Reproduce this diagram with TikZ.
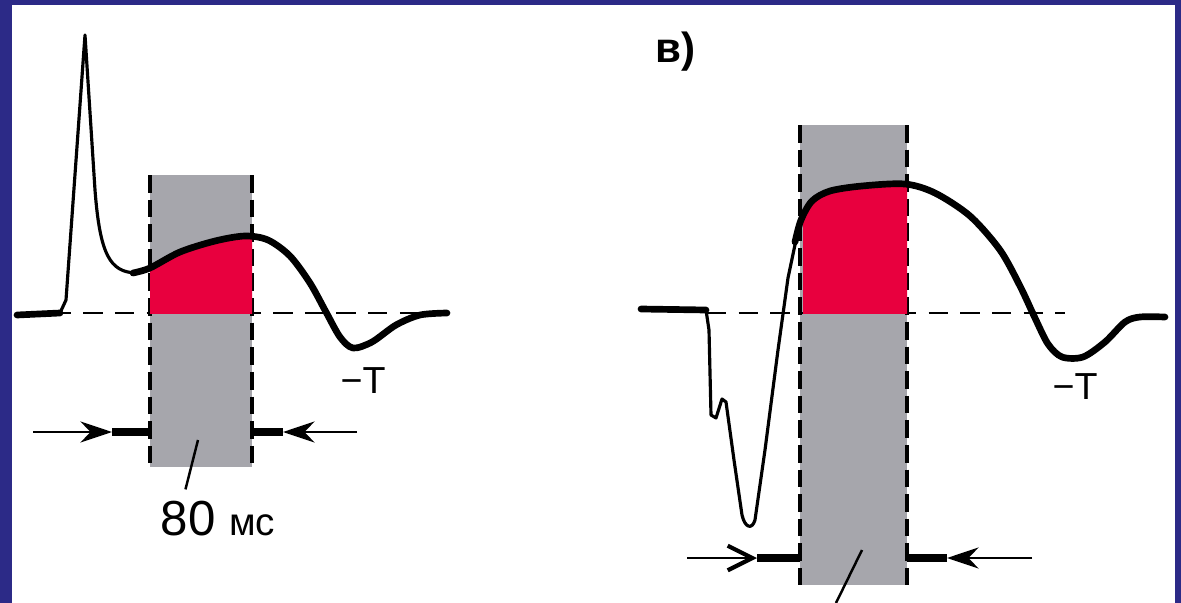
\documentclass[tikz,border=0pt]{standalone}
\usepackage{fontspec}
\setmainfont{Liberation Sans}
\usepackage{xcolor}
\usetikzlibrary{arrows.meta,calc,positioning}
\definecolor{frameblue}{RGB}{44,42,135}
\definecolor{zonegray}{RGB}{166,166,172}
\definecolor{stred}{RGB}{232,0,62}

\begin{document}
\begin{tikzpicture}[x=0.01cm,y=-0.01cm,
  trace/.style={line width=1.9pt,line cap=round,line join=round},
  qrs/.style={line width=0.9pt,line join=round},
  iso/.style={line width=0.7pt,dash pattern=on 5.5pt off 3.5pt},
  bound/.style={line width=1.2pt,dash pattern=on 5pt off 2pt},
  dimline/.style={line width=0.7pt},
  dimstub/.style={line width=2pt},
  lbl/.style={inner sep=0pt}]
  \useasboundingbox (0,0) rectangle (1181,603);
  \fill[frameblue] (0,0) rectangle (1181,603);
  \fill[white] (12,5) rectangle (1175,603);

  % left panel: window 80 ms
  \fill[zonegray] (150,175) rectangle (252,467);
  \draw[bound] (150,175) -- (150,467);
  \draw[bound] (252,175) -- (252,467);
  \draw[iso] (20,313) -- (447,313);
  \begin{scope}
    \clip (150,175) rectangle (252,313);
    \fill[stred] plot[smooth] coordinates {(133,273) (150,268) (180,252) (215,241) (245,236) (268,240) (290,256) (310,283)} -- (310,330) -- (133,330) -- cycle;
  \end{scope}
  \draw[trace] (17,315) -- (60,313);
  \draw[qrs] (60,313) -- (66,300) -- (85,35) -- (95,190) .. controls (100,255) and (110,272) .. (136,273);
  \draw[trace] plot[smooth] coordinates {(133,273) (150,268) (180,252) (215,241) (245,236) (268,240) (290,256) (310,283) (326,312) (340,337) (353,348) (372,342) (396,325) (420,315) (447,313)};
  \node[lbl,anchor=base west,font=\fontsize{10.7}{12}\selectfont] (tnegL) at (340,393) {−T};

  \coordinate (la0) at (33,432);
  \coordinate (la1) at (112,432);
  \coordinate (la2) at (150,432);
  \coordinate (lb0) at (357,432);
  \coordinate (lb1) at (283,432);
  \coordinate (lb2) at (252,432);
  \draw[dimline,-{Stealth[length=9pt,width=6pt]}] (la0) -- (la1);
  \draw[dimstub] (la1) -- (la2);
  \draw[dimline,-{Stealth[length=9pt,width=6pt]}] (lb0) -- (lb1);
  \draw[dimstub] (lb1) -- (lb2);

  \node[lbl,anchor=base west,font=\fontsize{14}{16}\selectfont] (durL) at (160,535) {80 {\fontsize{11}{13}\selectfont мс}};
  \coordinate (durtipL) at (198,440);
  \draw[dimline] ([yshift=3pt]$(durL.north west)!0.22!(durL.north east)$) -- (durtipL);

  % right panel
  \node[lbl,anchor=base west,font=\fontsize{12}{14}\selectfont\bfseries] (panel) at (655,62) {в)};
  \fill[zonegray] (800,125) rectangle (907,585);
  \draw[bound] (800,125) -- (800,585);
  \draw[bound] (907,125) -- (907,585);
  \draw[iso] (707,313) -- (1065,313);
  \begin{scope}
    \clip (803,125) rectangle (907,313);
    \fill[stred] plot[smooth] coordinates {(795,242) (801,220) (812,201) (830,191) (862,186) (905,184) (935,193)} -- (935,330) -- (795,330) -- cycle;
  \end{scope}
  \draw[trace] (641,309) -- (706,310);
  \draw[qrs] (706,310) -- (709,330) -- (711,415) -- (716,418) -- (722,399) -- (726,402) -- (734,460) -- (742,515) .. controls (745,528) and (752,530) .. (755,520) -- (765,450) -- (778,350) -- (788,278) -- (796,240);
  \draw[trace] plot[smooth] coordinates {(795,242) (801,220) (812,201) (830,191) (862,186) (905,184) (935,193) (970,216) (1000,250) (1020,286) (1035,318) (1048,344) (1062,357) (1083,357) (1105,342) (1125,322) (1140,317) (1165,317)};
  \node[lbl,anchor=base west,font=\fontsize{10.7}{12}\selectfont] (tnegR) at (1052,399) {−T};

  \coordinate (ra0) at (687,558);
  \coordinate (ra1) at (757,558);
  \coordinate (ra2) at (800,558);
  \coordinate (rb0) at (1032,558);
  \coordinate (rb1) at (947,558);
  \coordinate (rb2) at (907,558);
  \draw[dimline,-{Straight Barb[length=7pt,width=7pt,line width=1.2pt]}] (ra0) -- (ra1);
  \draw[dimstub] (ra1) -- (ra2);
  \draw[dimline,-{Stealth[length=9pt,width=6pt]}] (rb0) -- (rb1);
  \draw[dimstub] (rb1) -- (rb2);

  \coordinate (durtipR) at (862,550);
  \coordinate (durbotR) at (836,603);
  \draw[dimline] (durbotR) -- (durtipR);
\end{tikzpicture}
\end{document}
